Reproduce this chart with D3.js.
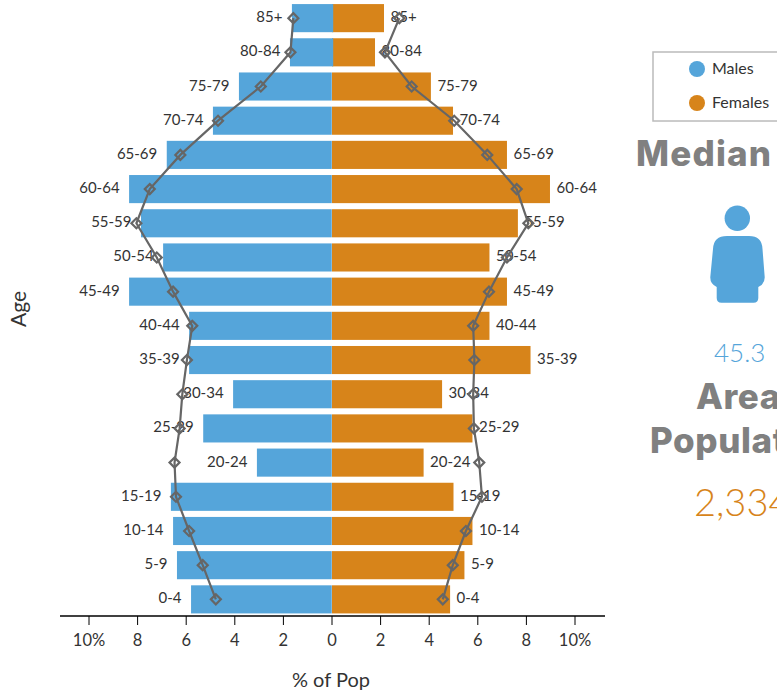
<!DOCTYPE html>
<html><head><meta charset="utf-8">
<script src="https://cdn.jsdelivr.net/npm/d3@7/dist/d3.min.js"></script>
<style>html,body{margin:0;padding:0;background:#fff;overflow:hidden}svg{display:block;font-family:Lato,sans-serif}</style>
</head><body><svg id="c" width="777" height="691"></svg>
<script>
const ageGroups=["85+","80-84","75-79","70-74","65-69","60-64","55-59","50-54","45-49","40-44","35-39","30-34","25-29","20-24","15-19","10-14","5-9","0-4"];
const malePct=[1.65,1.73,3.83,4.9,6.8,8.35,7.86,6.95,8.35,5.88,5.88,4.07,5.3,3.09,6.63,6.54,6.38,5.8];
const femalePct=[2.14,1.77,4.07,4.98,7.2,8.97,7.65,6.48,7.2,6.48,8.17,4.53,5.78,3.77,5.0,5.78,5.45,4.86];
const maleLine=[1.59,1.71,2.93,4.69,6.24,7.5,8.05,7.21,6.54,5.75,5.97,6.16,6.27,6.48,6.42,5.88,5.32,4.78];
const femaleLine=[2.77,2.18,3.28,5.03,6.39,7.6,8.08,7.2,6.46,5.81,5.86,5.81,5.84,6.06,6.17,5.51,4.97,4.56];
const maleBarEnd=[0.05,0.05,-0.01,-0.01,-0.01,-0.01,-0.01,-0.01,-0.01,-0.01,-0.01,-0.01,-0.01,-0.01,-0.01,-0.01,-0.01,-0.01];
const xTicks=[-10,-8,-6,-4,-2,0,2,4,6,8,10];
const MALE="#55a5da",FEMALE="#d7841a",LINE="#666666",TXT="#333333";
const svg=d3.select("#c");
const x=d3.scaleLinear().domain([-10,10]).range([89,575]);
const y=d3.scaleBand().domain(ageGroups).range([1,616.5]).paddingInner(0.178).paddingOuter(0.09);
const cy=a=>y(a)+y.bandwidth()/2;
const rows=ageGroups.map((a,i)=>({a,m:malePct[i],f:femalePct[i],ml:maleLine[i],fl:femaleLine[i],e:maleBarEnd[i]}));
svg.append("g").selectAll("rect").data(rows).join("rect").attr("x",x(0)).attr("y",d=>y(d.a)).attr("width",d=>x(d.f)-x(0)).attr("height",y.bandwidth()).attr("fill",FEMALE);
svg.append("g").selectAll("rect").data(rows).join("rect").attr("x",d=>x(-d.m)).attr("y",d=>y(d.a)).attr("width",d=>x(d.e)-x(-d.m)).attr("height",y.bandwidth()).attr("fill",MALE);
const lab=svg.append("g").attr("font-size",15).attr("fill",TXT);
lab.selectAll(".m").data(rows).join("text").attr("x",d=>x(-d.m)-9.5).attr("y",d=>cy(d.a)+4).attr("text-anchor","end").text(d=>d.a);
lab.selectAll(".f").data(rows).join("text").attr("x",d=>x(d.f)+6.5).attr("y",d=>cy(d.a)+4).text(d=>d.a);
const ln=d3.line().x(d=>d[0]).y(d=>d[1]);
[["ml",-1],["fl",1]].forEach(([k,s])=>{
 svg.append("path").attr("d",ln(rows.map(d=>[x(s*d[k]),cy(d.a)]))).attr("fill","none").attr("stroke",LINE).attr("stroke-width",2.2);
 svg.append("g").selectAll("path").data(rows).join("path").attr("d",d3.symbol(d3.symbolSquare,50)).attr("transform",d=>`translate(${x(s*d[k])},${cy(d.a)}) rotate(45)`).attr("fill","none").attr("stroke",LINE).attr("stroke-width",2.2);
});
const ax=svg.append("g").attr("transform","translate(0,616)");
ax.append("line").attr("x1",60).attr("x2",605).attr("stroke","#000").attr("stroke-width",1.5);
const tk=ax.selectAll("g").data(xTicks).join("g").attr("transform",d=>`translate(${x(d)},0)`);
tk.append("line").attr("y2",9).attr("stroke","#000").attr("stroke-width",1);
tk.append("text").attr("y",30).attr("text-anchor","middle").attr("font-size",16.5).attr("fill",TXT).text(d=>Math.abs(d)===10?"10%":Math.abs(d));
svg.append("text").attr("x",331).attr("y",687).attr("text-anchor","middle").attr("font-size",20).attr("fill",TXT).text("% of Pop");
svg.append("text").attr("transform","translate(26,309) rotate(-90)").attr("text-anchor","middle").attr("font-size",21).attr("fill",TXT).text("Age");
svg.append("rect").attr("x",653).attr("y",52).attr("width",140).attr("height",69).attr("fill","#fff").attr("stroke","#bbb").attr("stroke-width",1.5);
[["Males",MALE,69],["Females",FEMALE,103]].forEach(([t,c,yy])=>{
 svg.append("circle").attr("cx",697).attr("cy",yy).attr("r",8).attr("fill",c);
 svg.append("text").attr("x",712).attr("y",yy+5).attr("font-size",16).attr("fill",TXT).text(t);
});
const big=(t,xx,yy,fs,fw,c,ff,ls)=>svg.append("text").attr("x",xx).attr("y",yy).attr("font-size",fs).attr("font-weight",fw).attr("fill",c).attr("font-family",ff||null).attr("letter-spacing",ls||0).text(t);
big("Median",636,166,35,800,"#808080","Inter",1.2);
big("Area",696,409,35,800,"#808080","Inter",0.6);
big("Population",650,453,35,800,"#808080","Inter",0.6);
big("45.3",714,362,26,300,MALE);
big("2,334",694,516,38,300,FEMALE);
svg.append("circle").attr("cx",737.3).attr("cy",218.3).attr("r",12.7).attr("fill",MALE);
svg.append("path").attr("fill",MALE).attr("d","M727 236 H749 Q762 236 762.5 249 L764.7 277 Q765 284 758.3 287 V298 Q758.3 302.7 753.5 302.7 H721.5 Q716.7 302.7 716.7 298 V287 Q710 284 710.3 277 L713 249 Q713.5 236 727 236Z");
</script></body></html>
